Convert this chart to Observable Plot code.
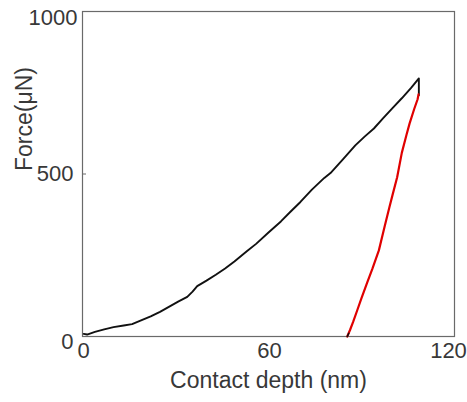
<!DOCTYPE html>
<html>
<head>
<meta charset="utf-8">
<script src="https://cdn.jsdelivr.net/npm/d3@7"></script>
<script src="https://cdn.jsdelivr.net/npm/@observablehq/plot@0.6"></script>
<style>
  html, body { margin: 0; padding: 0; background: white; }
</style>
</head>
<body>
<div id="chart"></div>
<script>
// Loading curve (black): contact depth (nm), force (μN)
const loadDepth = [0.4, 1.5, 4, 7, 10, 13.3, 16, 18.7, 22, 25, 28, 31, 33.8, 35.5, 37, 40, 43, 46, 49, 53, 56, 60, 64, 67, 70.3, 74, 78, 80, 84, 88, 91, 94, 97, 100, 103, 106, 108.5, 108.5];
const loadForce = [8, 6, 14, 22, 29, 34, 38, 49, 62, 76, 92, 108, 122, 138, 155, 172, 190, 209, 231, 262, 285, 320, 354, 383, 414, 452, 488, 503, 545, 588, 615, 640, 672, 703, 733, 765, 794, 742];
// Unloading curve (red)
const unloadDepth = [108.4, 108.1, 107, 105.5, 104.5, 103, 101.5, 100, 99, 97.5, 95.6, 93.5, 91.8, 90, 88.6, 87.3, 86.3, 85.4];
const unloadForce = [745, 730, 700, 655, 620, 565, 490, 435, 398, 340, 265, 208, 165, 118, 80, 45, 20, 0];
// small black end of unloading at zero force
const tailDepth = [85.4, 85.9];
const tailForce = [0, 10];

const xTicks = [0, 60];
const xTickLast = [120];
const yTicksMid = [500];
const yTicksEnds = [0, 1000];
const xLabel = "Contact depth (nm)";
const yLabel = "Force(μN)";

const load = loadDepth.map((d, i) => ({x: d, y: loadForce[i]}));
const unload = unloadDepth.map((d, i) => ({x: d, y: unloadForce[i]}));
const tail = tailDepth.map((d, i) => ({x: d, y: tailForce[i]}));

const txt = "#383838";
const chart = Plot.plot({
  width: 467,
  height: 402,
  marginLeft: 82,
  marginRight: 13,
  marginTop: 11,
  marginBottom: 66,
  x: {domain: [0, 120], axis: null},
  y: {domain: [0, 1000], axis: null},
  style: {fontFamily: "'Liberation Sans', Arial, sans-serif", background: "white", color: txt},
  marks: [
    Plot.frame({stroke: "#6a6a6a", strokeWidth: 1.2}),
    Plot.axisY(yTicksMid, {tickSize: -4, tickFormat: () => "", label: null, stroke: "#6a6a6a"}),
    Plot.line(load, {x: "x", y: "y", stroke: "#111", strokeWidth: 1.9, strokeLinejoin: "round"}),
    Plot.line(unload, {x: "x", y: "y", stroke: "#e00000", strokeWidth: 2.2, strokeLinejoin: "round"}),
    Plot.line(tail, {x: "x", y: "y", stroke: "#111", strokeWidth: 1.6}),
    Plot.text(yTicksMid, {y: d => d, text: d => String(d), frameAnchor: "left", textAnchor: "end", dx: -9, dy: 0, fontSize: 22, fill: txt}),
    Plot.text([yTicksEnds[1]], {y: d => d, text: d => String(d), frameAnchor: "left", textAnchor: "end", dx: -5, dy: 6, fontSize: 22, fill: txt}),
    Plot.text([yTicksEnds[0]], {y: d => d, text: d => String(d), frameAnchor: "left", textAnchor: "end", dx: -9, dy: 5, fontSize: 22, fill: txt}),
    Plot.text(xTicks, {x: d => d, text: d => String(d), frameAnchor: "bottom", dy: 21, dx: 1, fontSize: 22, fill: txt}),
    Plot.text(xTickLast, {x: d => d, text: d => String(d), frameAnchor: "bottom", dy: 21, dx: -6, fontSize: 22, fill: txt}),
    Plot.text([xLabel], {frameAnchor: "bottom", dy: 51, fontSize: 23, fill: txt}),
    Plot.text([yLabel], {frameAnchor: "left", rotate: -90, dx: -58, dy: -3, fontSize: 23, fill: txt})
  ]
});
document.getElementById("chart").appendChild(chart);
</script>
</body>
</html>
